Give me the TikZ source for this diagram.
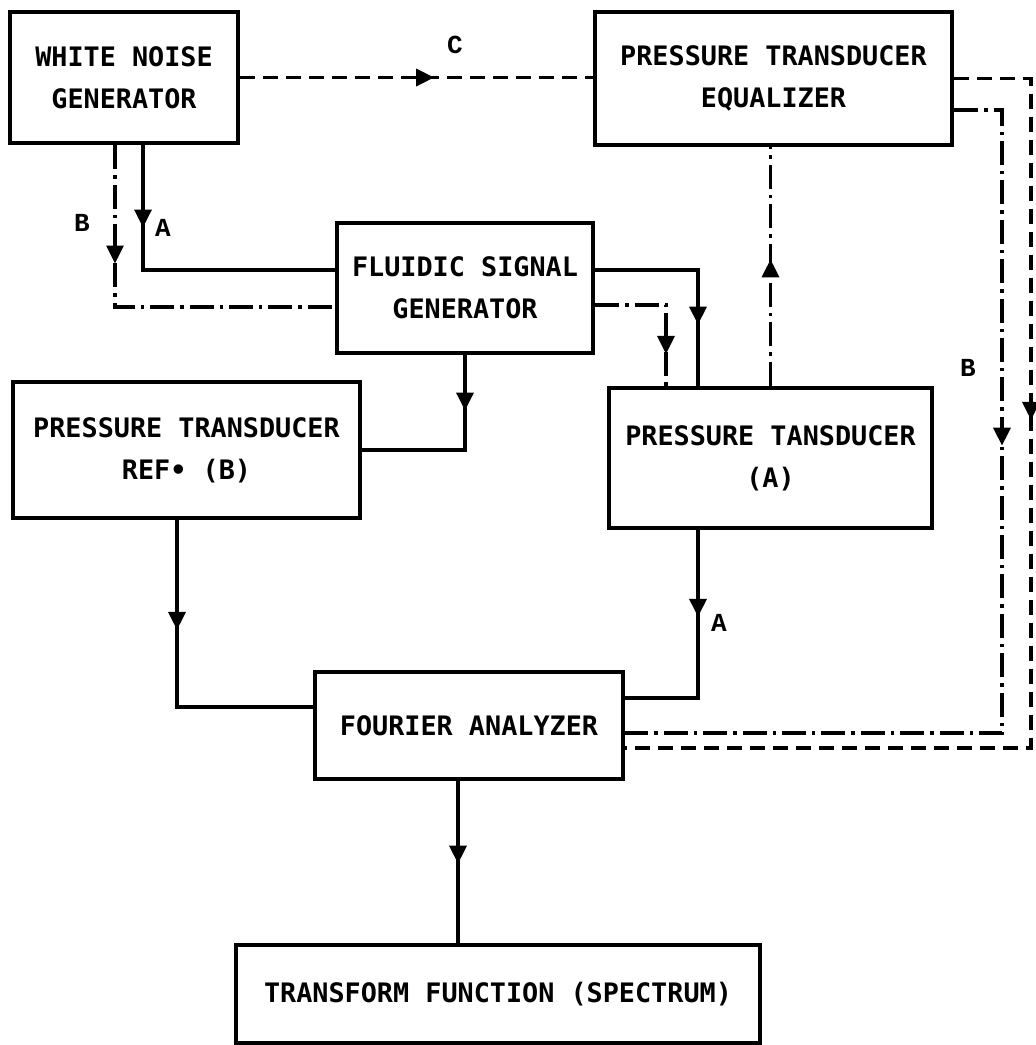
\documentclass[tikz,border=0pt]{standalone}
\usepackage{fontspec}
\setmonofont{DejaVu Sans Mono}
\newfontfamily\labelfont{Liberation Mono}
\usepackage{tikz}
\usetikzlibrary{decorations.markings, arrows.meta, calc}
\newcommand\boxfont{\ttfamily\bfseries\fontsize{13.4}{21}\selectfont}
\newcommand\tagfont{\labelfont\bfseries\fontsize{13}{15}\selectfont}
\tikzset{
	box/.style={draw, line width=2.2pt, inner sep=0pt, align=center, font=\boxfont},
	link/.style={line width=1.7pt},
	dashC/.style={link, dash pattern=on 7.5pt off 4pt},
	dashB/.style={link, dash pattern=on 12pt off 3pt on 1.7pt off 3pt},
	midarrow/.style={postaction={decorate}, decoration={markings,
		mark=at position #1 with {\arrow{Triangle[length=9pt, width=8.5pt]}}}},
	lbl/.style={font=\tagfont, inner sep=0pt}
}

\begin{document}
\begin{tikzpicture}[x=0.5pt, y=-0.5pt]
	\useasboundingbox (0,0) rectangle (1036,1045);
	
	% blocks
	\node[box, minimum width=114pt, minimum height=65.5pt] (wng) at (124,77.5) {WHITE NOISE\\GENERATOR};
	\node[box, minimum width=178.5pt, minimum height=66.5pt] (pte) at (773.5,78.5) {PRESSURE TRANSDUCER\\EQUALIZER};
	\node[box, minimum width=128pt, minimum height=65pt] (fsg) at (465,288) {FLUIDIC SIGNAL\\GENERATOR};
	\node[box, minimum width=173.5pt, minimum height=68pt] (ptr) at (186.5,450) {PRESSURE TRANSDUCER\\REF• (B)};
	\node[box, minimum width=161.5pt, minimum height=70pt] (pta) at (770.5,458) {PRESSURE TANSDUCER\\(A)};
	\node[box, minimum width=154pt, minimum height=53.5pt] (fa) at (469,725.5) {FOURIER ANALYZER};
	\node[box, minimum width=262pt, minimum height=49pt] (tf) at (498,994) {TRANSFORM FUNCTION (SPECTRUM)};
	
	% bus positions
	\coordinate (xA1) at (143,0);
	\coordinate (xB1) at (115,0);
	\coordinate (xA2) at (698,0);
	\coordinate (xB2) at (666,0);
	\coordinate (xR) at (177,0);
	\coordinate (xT) at (458,0);
	\coordinate (xB3) at (1002,0);
	\coordinate (xC) at (1031,0);
	\coordinate (fsgA) at ($(fsg.west)+(0,-18)$);
	\coordinate (fsgB) at ($(fsg.west)+(0,19)$);
	\coordinate (fsgA2) at ($(fsg.east)+(0,-18)$);
	\coordinate (fsgB2) at ($(fsg.east)+(0,17)$);
	\coordinate (pteB) at ($(pte.east)+(0,31.5)$);
	\coordinate (faL) at ($(fa.west)+(0,-18.5)$);
	\coordinate (faR) at ($(fa.east)+(0,-27.5)$);
	\coordinate (faB) at ($(fa.east)+(0,7.5)$);
	\coordinate (faC) at ($(fa.east)+(0,22.5)$);
	
	% C path
	\draw[dashC, midarrow=0.55] (wng.east) -- (wng.east -| pte.west);
	\draw[dashC, midarrow=0.363] (pte.east) -- (pte.east -| xC) -- (xC |- faC) -- (faC);
	\draw[dashB, midarrow=0.366] (pteB) -- (pteB -| xB3) -- (xB3 |- faB) -- (faB);
	
	% A and B paths
	\draw[link, midarrow=0.26] (xA1 |- wng.south) -- (xA1 |- fsgA) -- (fsgA);
	\draw[dashB, midarrow=0.31] (xB1 |- wng.south) -- (xB1 |- fsgB) -- (fsgB);
	\draw[link, midarrow=0.72] (fsgA2) -- (fsgA2 -| xA2) -- (xA2 |- pta.north);
	\draw[dashB, midarrow=0.79] (fsgB2) -- (fsgB2 -| xB2) -- (xB2 |- pta.north);
	\draw[dashB, midarrow=0.53] (pta.north) -- (pta.north |- pte.south);
	\draw[link, midarrow=0.28] (fsg.south) -- (fsg.south |- ptr.east) -- (ptr.east);
	\draw[link, midarrow=0.34] (xR |- ptr.south) -- (xR |- faL) -- (faL);
	\draw[link, midarrow=0.36] (xA2 |- pta.south) -- (xA2 |- faR) -- (faR);
	\draw[link, midarrow=0.51] (xT |- fa.south) -- (xT |- tf.north);
	
	% path labels
	\node[lbl] (lblC) at (455,45) {C};
	\node[lbl] (lblB1) at (82,223) {B};
	\node[lbl] (lblA1) at (163,228) {A};
	\node[lbl] (lblB2) at (968,368) {B};
	\node[lbl] (lblA2) at (719,623) {A};
\end{tikzpicture}
\end{document}
